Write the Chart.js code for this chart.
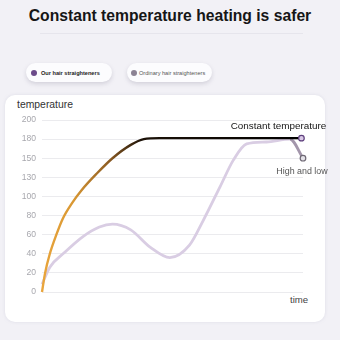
<!DOCTYPE html>
<html>
<head>
<meta charset="utf-8">
<script src="https://cdn.jsdelivr.net/npm/chart.js@4/dist/chart.umd.min.js"></script>
<style>
  html, body { margin: 0; padding: 0; }
  body { width: 340px; height: 340px; background: #f2f1f6; position: relative; overflow: hidden; font-family: "Liberation Sans", Arial, sans-serif; }
  #title { position: absolute; left: 0; top: 7px; width: 340px; text-align: center; font-weight: bold; font-size: 15.7px; color: #161616; }
  #rule { position: absolute; left: 40px; top: 33px; width: 263px; height: 1px; background: #e6e5ec; }
  .pill { position: absolute; top: 63px; height: 19px; border-radius: 10px; background: #fcfcfe; box-shadow: 0 2px 4px rgba(120,115,140,0.25); font-size: 5.6px; display: flex; align-items: center; white-space: nowrap; }
  .dot { width: 6px; height: 6px; border-radius: 50%; margin: 0 4px 0 5px; }
  #card { position: absolute; left: 5px; top: 95px; width: 320px; height: 227px; background: #ffffff; border-radius: 10px; box-shadow: 0 0 3px rgba(200,200,215,0.5); }
  .lbl { position: absolute; font-size: 10.4px; color: #333; }
  canvas { position: absolute; left: 0; top: 0; }
</style>
</head>
<body>
<div id="title">Constant temperature heating is safer</div>
<div id="rule"></div>
<div class="pill" style="left:26px;width:86px;"><span class="dot" style="background:#6b4a8a"></span><span style="color:#222;font-weight:bold">Our hair straighteners</span></div>
<div class="pill" style="left:127px;width:85px;"><span class="dot" style="background:#8c8394;margin-left:4px;margin-right:2px"></span><span style="color:#555">Ordinary hair straighteners</span></div>
<div id="card"></div>
<div class="lbl" style="left:17px;top:99px;">temperature</div>
<div class="lbl" style="left:290px;top:294px;font-size:9.6px;color:#444;">time</div>
<canvas id="c" width="340" height="340"></canvas>
<script>
// ---- data ----
const yTickLabels = ['0', '20', '40', '60', '80', '100', '130', '150', '180', '200'];
const ourTime  = [0, 1.2, 3, 5.5, 8, 11.5, 15, 21, 27, 34, 39, 45, 70, 99.4];
const ourTemp  = [0, 20, 40, 60, 77, 93, 106, 124, 140, 154, 160, 161, 161, 161];
const ordTime  = [0, 3, 8.5, 15.7, 22, 27, 34, 41.4, 49, 56.5, 61.8, 68.2, 73.3, 78.4, 86, 95, 100];
const ordTemp  = [8, 26, 41, 58, 68, 71, 65, 47, 36, 49, 75, 110, 138, 155, 157, 160, 140];
const seriesNames = ['Our hair straighteners', 'Ordinary hair straighteners'];
const endLabels = ['Constant temperature', 'High and low'];

const toPts = (xs, ys) => xs.map((x, i) => ({ x: x, y: ys[i] }));

function ourColor(ctx) {
  const ch = ctx.chart, a = ch.chartArea;
  if (!a) return '#000';
  const g = ch.ctx.createLinearGradient(a.left, 0, a.right, 0);
  g.addColorStop(0, '#e9a53c');
  g.addColorStop(0.12, '#d99833');
  g.addColorStop(0.26, '#8a5a22');
  g.addColorStop(0.38, '#1c1208');
  g.addColorStop(1, '#000000');
  return g;
}

const lastOnly = (v) => (ctx) => ctx.dataIndex === ctx.dataset.data.length - 1 ? v : 0;

const endLabelPlugin = {
  id: 'endLabels',
  afterDatasetsDraw(chart) {
    const c = chart.ctx;
    const specs = [
      { dx: -23, dy: -12, font: '9.9px "Liberation Sans", Arial, sans-serif', color: '#141414' },
      { dx: -1, dy: 13, font: '8.9px "Liberation Sans", Arial, sans-serif', color: '#555' }
    ];
    chart.data.datasets.forEach((ds, i) => {
      const meta = chart.getDatasetMeta(i);
      const p = meta.data[meta.data.length - 1];
      c.save();
      c.font = specs[i].font;
      c.fillStyle = specs[i].color;
      c.textAlign = 'center';
      c.textBaseline = 'middle';
      c.fillText(endLabels[i], p.x + specs[i].dx, p.y + specs[i].dy);
      c.restore();
    });
  }
};

new Chart(document.getElementById('c'), {
  type: 'line',
  data: {
    datasets: [
      {
        label: seriesNames[0],
        data: toPts(ourTime, ourTemp),
        borderColor: ourColor,
        borderWidth: 2.4,
        cubicInterpolationMode: 'monotone',
        pointRadius: lastOnly(2.8),
        pointBackgroundColor: '#d9c8e6',
        pointBorderColor: '#5d3f7c',
        pointBorderWidth: 1.2,
        clip: false
      },
      {
        label: seriesNames[1],
        data: toPts(ordTime, ordTemp),
        borderColor: '#d9cde3',
        borderWidth: 2.8,
        cubicInterpolationMode: 'monotone',
        segment: {
          borderColor: (ctx) => ctx.p1DataIndex === ordTime.length - 1 ? '#a396ab' : undefined
        },
        pointRadius: lastOnly(2.8),
        pointBackgroundColor: '#e4e2e8',
        pointBorderColor: '#6e6874',
        pointBorderWidth: 1.2,
        clip: false
      }
    ]
  },
  options: {
    responsive: false,
    animation: false,
    devicePixelRatio: 1,
    layout: { padding: { left: 0, top: 120, right: 37, bottom: 48 } },
    plugins: { legend: { display: false }, tooltip: { enabled: false } },
    scales: {
      x: { type: 'linear', min: 0, max: 100, display: false },
      y: {
        type: 'linear', min: 0, max: 180,
        afterFit: (s) => { s.width = 42; },
        border: { display: false },
        grid: { color: '#ebebee', lineWidth: 1, drawTicks: false },
        ticks: {
          stepSize: 20,
          padding: 6,
          color: '#a8a8ae',
          font: { family: '"Liberation Sans", Arial, sans-serif', size: 8.6 },
          callback: (v) => yTickLabels[Math.round(v / 20)]
        }
      }
    }
  },
  plugins: [endLabelPlugin]
});
</script>
</body>
</html>
